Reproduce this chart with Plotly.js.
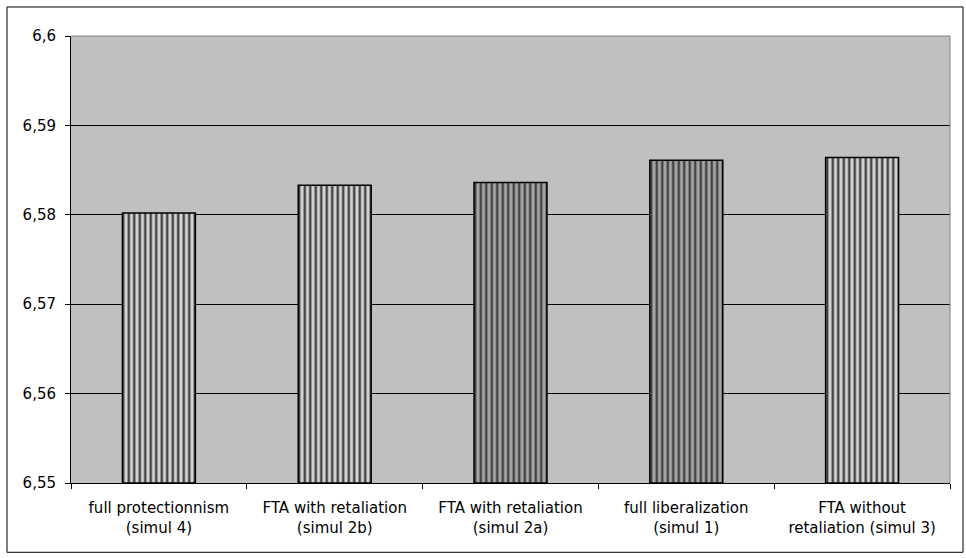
<!DOCTYPE html>
<html>
<head>
<meta charset="utf-8">
<script src="https://cdn.plot.ly/plotly-3.0.1.min.js"></script>
<style>body{margin:0;background:#fff;}#chart{width:966px;height:558px;}</style>
</head>
<body>
<div id="chart"></div>
<script>
var categories = [
  "full protectionnism<br>(simul 4)",
  "FTA with retaliation<br>(simul 2b)",
  "FTA with retaliation<br>(simul 2a)",
  "full liberalization<br>(simul 1)",
  "FTA without<br>retaliation (simul 3)"
];
var values = [6.5802, 6.5833, 6.5836, 6.5861, 6.5864];
var yTickVals = [6.55, 6.56, 6.57, 6.58, 6.59, 6.6];
var yTickText = ["6,55", "6,56", "6,57", "6,58", "6,59", "6,6"];
var axisMin = 6.55;

var light = {bg: "#d4d4d4", fg: "#555555"};
var dark = {bg: "#a6a6a6", fg: "#353535"};
var shades = [light, light, dark, dark, light];

var trace = {
  type: "bar",
  x: categories,
  y: values.map(function(v){return v - axisMin;}),
  base: axisMin,
  width: 0.415,
  marker: {
    color: shades.map(function(s){return s.bg;}),
    opacity: 1,
    line: {color: "#000", width: 1.5},
    pattern: {
      shape: "|",
      size: 5.5,
      solidity: 0.45,
      fgcolor: shades.map(function(s){return s.fg;}),
      fgopacity: 1,
      fillmode: "overlay"
    }
  },
  hoverinfo: "skip"
};

var layout = {
  width: 966, height: 558,
  margin: {l: 71, r: 16, t: 36, b: 75},
  paper_bgcolor: "#fff",
  plot_bgcolor: "#c0c0c0",
  showlegend: false,
  font: {family: "DejaVu Sans, Arial, sans-serif", size: 15, color: "#000"},
  xaxis: {
    type: "category",
    showgrid: false,
    showline: true, linecolor: "#000", linewidth: 1,
    ticks: "outside", ticklen: 5, tickcolor: "#000",
    tickson: "boundaries",
    ticklabelstandoff: 11,
    tickfont: {size: 15},
    fixedrange: true
  },
  yaxis: {
    range: [6.55, 6.6],
    tickvals: yTickVals,
    ticktext: yTickText,
    showgrid: true, gridcolor: "#000", gridwidth: 1,
    showline: true, linecolor: "#000", linewidth: 1,
    ticks: "outside", ticklen: 5, tickcolor: "#000",
    ticklabelstandoff: 6,
    tickfont: {size: 15},
    zeroline: false,
    fixedrange: true
  },
  shapes: [
    {type: "rect", xref: "paper", yref: "paper", x0: -0.0728, x1: 1.0148, y0: -0.155, y1: 1.0649,
     line: {color: "#000", width: 1}, fillcolor: "rgba(0,0,0,0)", layer: "below"},
    {type: "line", xref: "paper", yref: "paper", x0: 0, x1: 1, y0: 1, y1: 1,
     line: {color: "#808080", width: 1}, layer: "above"},
    {type: "line", xref: "paper", yref: "paper", x0: 1, x1: 1, y0: 0, y1: 1,
     line: {color: "#808080", width: 1}, layer: "above"}
  ]
};

Plotly.newPlot("chart", [trace], layout, {displayModeBar: false, staticPlot: true});
</script>
</body>
</html>
